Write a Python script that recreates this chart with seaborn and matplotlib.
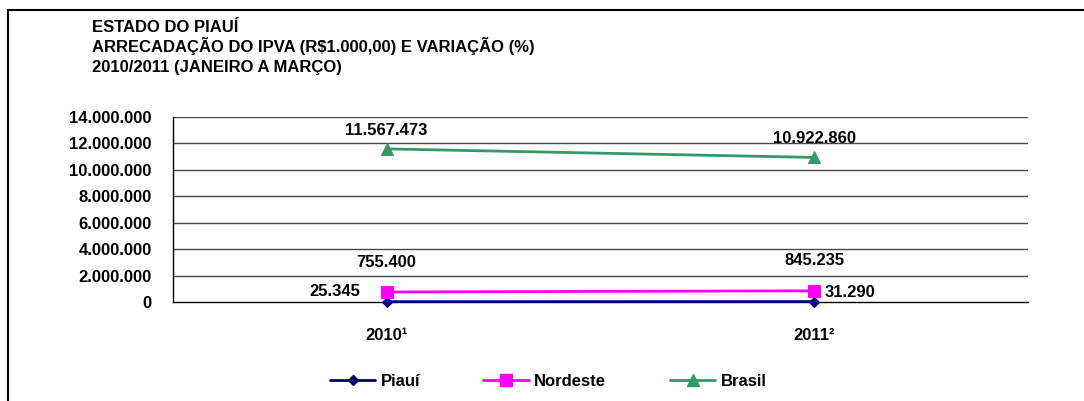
import numpy as np
import pandas as pd
import matplotlib.pyplot as plt
import matplotlib.patches as mpatches
from matplotlib.lines import Line2D
import seaborn as sns

# dados (R$ 1.000,00)
anos = ["2010¹", "2011²"]
piaui = [25345, 31290]
nordeste = [755400, 845235]
brasil = [11567473, 10922860]
yticks = [0, 2000000, 4000000, 6000000, 8000000, 10000000, 12000000, 14000000]

titulo = ["ESTADO DO PIAUÍ",
          "ARRECADAÇÃO DO IPVA (R$1.000,00) E VARIAÇÃO (%)",
          "2010/2011 (JANEIRO A MARÇO)"]


def fmt(v):
    return f"{int(v):,}".replace(",", ".")


sns.set_style("white")
plt.rcParams["font.family"] = ["Liberation Sans", "DejaVu Sans"]
plt.rcParams["font.weight"] = "bold"
plt.rcParams["font.size"] = 12
plt.rcParams["text.color"] = "black"
plt.rcParams["xtick.color"] = "black"
plt.rcParams["ytick.color"] = "black"
plt.rcParams["axes.labelcolor"] = "black"

x = np.arange(len(anos))
df = pd.DataFrame({"x": np.tile(x, 3),
                   "valor": piaui + nordeste + brasil,
                   "serie": ["Piauí"] * 2 + ["Nordeste"] * 2 + ["Brasil"] * 2})

cores = {"Piauí": "#000080", "Nordeste": "#FF00FF", "Brasil": "#339966"}
marcadores = {"Piauí": "D", "Nordeste": "s", "Brasil": "^"}
tamanhos = {"Piauí": 5.5, "Nordeste": 8, "Brasil": 9}

fig = plt.figure(figsize=(10.84, 4.01), dpi=100)
ax = fig.add_axes([172.7 / 1084, 1 - 302 / 401, (1028 - 172.7) / 1084, (302 - 116.7) / 401])

for nome in ["Piauí", "Nordeste", "Brasil"]:
    sub = df[df["serie"] == nome]
    sns.lineplot(data=sub, x="x", y="valor", ax=ax, color=cores[nome],
                 marker=marcadores[nome], markersize=tamanhos[nome],
                 markeredgecolor=cores[nome], linewidth=2, legend=False,
                 zorder=3, clip_on=False)

# rótulos dos valores
for xi, v in zip(x, brasil):
    ax.annotate(fmt(v), (xi, v), xytext=(0, 13.5), textcoords="offset points",
                ha="center", va="center", fontsize=12, fontweight="bold")
for xi, v in zip(x, nordeste):
    ax.annotate(fmt(v), (xi, v), xytext=(0, 21.5), textcoords="offset points",
                ha="center", va="center", fontsize=12, fontweight="bold")
ax.annotate(fmt(piaui[0]), (x[0], piaui[0]), xytext=(-19, 7), textcoords="offset points",
            ha="right", va="center", fontsize=12, fontweight="bold")
ax.annotate(fmt(piaui[1]), (x[1], piaui[1]), xytext=(7.5, 6.5), textcoords="offset points",
            ha="left", va="center", fontsize=12, fontweight="bold")

ax.set_xlim(-0.5, len(anos) - 0.5)
ax.set_ylim(yticks[0], yticks[-1])
ax.set_yticks(yticks)
ax.set_yticklabels([fmt(t) for t in yticks])
ax.set_xticks(x)
ax.set_xticklabels(anos)
ax.set_xticks(np.arange(len(anos) + 1) - 0.5, minor=True)
ax.tick_params(axis="x", which="major", length=0, pad=19)
ax.tick_params(axis="x", which="minor", length=5, width=1, color="black", direction="out")
ax.tick_params(axis="y", length=5, width=1, color="black", direction="out", pad=10)
ax.set_xlabel("")
ax.set_ylabel("")

for t in yticks[1:]:
    ax.axhline(t, color="#4a4a4a", linewidth=1, zorder=1)

for s in ["top", "right"]:
    ax.spines[s].set_visible(False)
for s in ["left", "bottom"]:
    ax.spines[s].set_color("black")
    ax.spines[s].set_linewidth(1)

# título
for i, linha in enumerate(titulo):
    fig.text(92 / 1084, 1 - (32 + i * 20) / 401, linha, ha="left", va="baseline",
             fontsize=12, fontweight="bold")

# legenda
handles = [Line2D([0], [0], color=cores[n], marker=marcadores[n], markersize=tamanhos[n],
                  linewidth=2, label=n) for n in ["Piauí", "Nordeste", "Brasil"]]
fig.legend(handles=handles, loc="center", bbox_to_anchor=(548 / 1084, 1 - 381 / 401),
           ncol=3, frameon=False, handlelength=2.75, handletextpad=0.3,
           columnspacing=3.8, borderpad=0, prop={"weight": "bold", "size": 12})

# moldura
fig.patches.append(mpatches.Rectangle((8 / 1084, -0.2), 1.2, 1.2 - 10 / 401,
                                      transform=fig.transFigure, fill=False,
                                      edgecolor="black", linewidth=1.5))

fig.savefig("out.png", dpi=100)
